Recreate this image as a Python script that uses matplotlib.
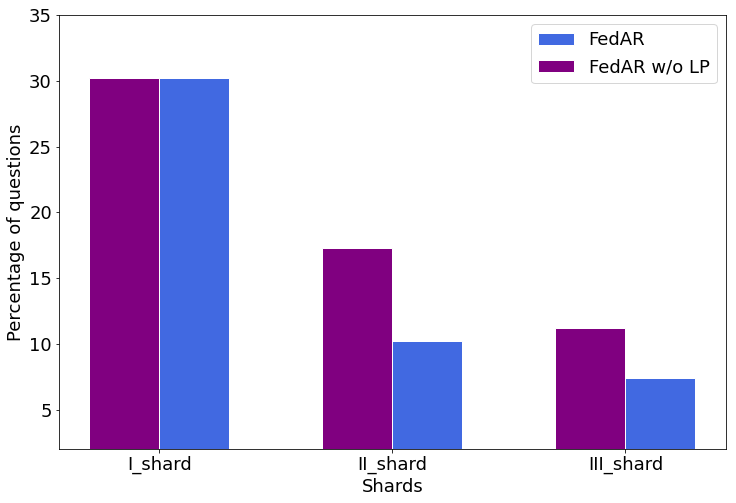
import matplotlib
matplotlib.use("Agg")
import matplotlib.pyplot as plt
import numpy as np

shards = ["I_shard", "II_shard", "III_shard"]
fedar = [30.2, 10.2, 7.4]
fedar_wo_lp = [30.2, 17.3, 11.2]

plt.rcParams["font.size"] = 18

x = np.arange(len(shards))
width = 0.3

fig, ax = plt.subplots(figsize=(736 / 72, 503 / 72), dpi=72)
ax.bar(x + width / 2, fedar, width, color="royalblue", edgecolor="white", label="FedAR")
ax.bar(x - width / 2, fedar_wo_lp, width, color="purple", edgecolor="white", label="FedAR w/o LP")
ax.set_xticks(x)
ax.set_xticklabels(shards)
ax.set_ylim(2, 35)
ax.set_yticks([5, 10, 15, 20, 25, 30, 35])
ax.set_xlabel("Shards")
ax.set_ylabel("Percentage of questions")
ax.legend(loc="upper right")
fig.subplots_adjust(left=0.08, right=0.986, top=0.97, bottom=0.107)
fig.savefig("out.png", dpi=72)
